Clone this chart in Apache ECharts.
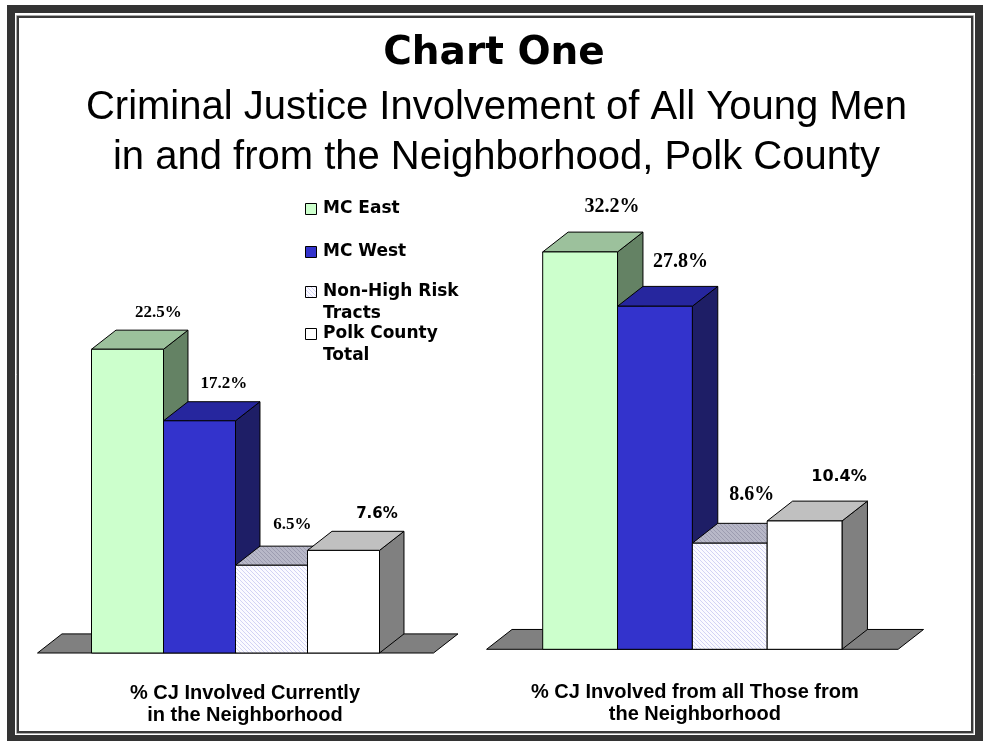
<!DOCTYPE html>
<html><head><meta charset="utf-8">
<script src="https://cdn.jsdelivr.net/npm/echarts@6/dist/echarts.min.js"></script>
<style>html,body{margin:0;padding:0;background:#fff}#c{width:983px;height:741px}</style>
</head><body><div id="c"></div>
<script>
// ---- data ----
const groupLabels = ['% CJ Involved Currently\nin the Neighborhood', '% CJ Involved from all Those from\nthe Neighborhood'];
const seriesNames = ['MC East', 'MC West', 'Non-High Risk Tracts', 'Polk County Total'];
const legendLabels = ['MC East', 'MC West', 'Non-High Risk\nTracts', 'Polk County\nTotal'];
const mcEast = [22.5, 32.2];
const mcWest = [17.2, 27.8];
const nonHighRisk = [6.5, 8.6];
const polkCountyTotal = [7.6, 10.4];
const seriesValues = [mcEast, mcWest, nonHighRisk, polkCountyTotal];

// ---- styles ----
function hatch(bg, fg) {
  const c = document.createElement('canvas'); c.width = 4; c.height = 4;
  const g = c.getContext('2d'); g.fillStyle = bg; g.fillRect(0, 0, 4, 4);
  g.fillStyle = fg; for (let i = 0; i < 4; i++) g.fillRect(i, i, 1, 1);
  return { image: c, repeat: 'repeat' };
}
const faces = [
  { front: '#CCFFCC', top: '#9CC19C', side: '#648264' },
  { front: '#3333CC', top: '#26269E', side: '#1E1E66' },
  { front: hatch('#FAFAFF', '#D2D2F4'), top: hatch('#B8B8C8', '#9C9CB0'), side: '#7A7A8A' },
  { front: '#FFFFFF', top: '#C0C0C0', side: '#808080' }
];
const groupStyle = [
  { serif: 17, sans: 15, rise: 18 },
  { serif: 20, sans: 16, rise: 25 }
];
const labelShift = [6.5, 0, -3.5, 9];
const labelRiseAdj = [0, 0, 3.5, -1];
const edge = { stroke: '#000', lineWidth: 1 };

function depth(bw) { const dx = bw * 0.34; return [dx, dx * 0.78]; }

function renderFloor(params, api) {
  const bw = api.size([1, 0])[0];
  const p0 = api.coord([0, 0]), p3 = api.coord([seriesNames.length - 1, 0]);
  const L = p0[0] - bw * 1.25, R = p3[0] + bw * 1.25, y = p0[1];
  const [dx, dy] = depth(bw);
  return { type: 'polygon', shape: { points: [[L, y], [L + dx, y - dy], [R + dx, y - dy], [R, y]] },
    style: Object.assign({ fill: '#808080' }, edge) };
}

function renderBar(s, g) {
  return function (params, api) {
    const cat = api.value(0), val = api.value(1);
    const base = api.coord([cat, 0]), top = api.coord([cat, val]);
    const bw = api.size([1, 0])[0];
    const x0 = base[0] - bw / 2, x1 = base[0] + bw / 2;
    const [dx, dy] = depth(bw);
    const yb = base[1], yt = top[1];
    const sans = s === 3;
    return { type: 'group', children: [
      { type: 'polygon', shape: { points: [[x1, yt], [x1 + dx, yt - dy], [x1 + dx, yb - dy], [x1, yb]] }, style: Object.assign({ fill: faces[s].side }, edge) },
      { type: 'polygon', shape: { points: [[x0, yt], [x0 + dx, yt - dy], [x1 + dx, yt - dy], [x1, yt]] }, style: Object.assign({ fill: faces[s].top }, edge) },
      { type: 'rect', shape: { x: x0, y: yt, width: bw, height: yb - yt }, style: Object.assign({ fill: faces[s].front }, edge) },
      { type: 'text', x: base[0] + dx + labelShift[s], y: yt - dy - groupStyle[g].rise - labelRiseAdj[s],
        style: { text: val.toFixed(1) + '%', fill: '#000', fontWeight: 'bold',
          fontFamily: sans ? 'DejaVu Sans' : 'Liberation Serif',
          fontSize: sans ? groupStyle[g].sans : groupStyle[g].serif,
          align: 'center', verticalAlign: 'middle' } }
    ] };
  };
}

const series = [];
for (let g = 0; g < 2; g++) {
  series.push({ type: 'custom', name: 'floor' + g, xAxisIndex: g, yAxisIndex: g, data: [[0, 0]], renderItem: renderFloor, silent: true });
  for (let s = 0; s < seriesNames.length; s++) {
    series.push({ type: 'custom', name: seriesNames[s], xAxisIndex: g, yAxisIndex: g,
      data: [[s, seriesValues[s][g]]], renderItem: renderBar(s, g) });
  }
}

const nameStyle = { fontFamily: 'Liberation Sans', fontWeight: 'bold', fontSize: 20, lineHeight: 22, color: '#000' };
function xAxis(g, gap, padLeft) {
  return { gridIndex: g, type: 'category', data: seriesNames, axisLine: { show: false }, axisTick: { show: false },
    axisLabel: { show: false }, splitLine: { show: false }, name: groupLabels[g], nameLocation: 'middle', nameGap: gap,
    nameTextStyle: Object.assign({ padding: [0, 0, 0, padLeft] }, nameStyle) };
}

// legend (drawn as graphic, linked to series names/colors)
const legendSq = [203.5, 246.5, 286.5, 328.5];
const legendTxt = [209, 251.5, 303, 345];
const legendGraphics = [];
for (let i = 0; i < seriesNames.length; i++) {
  legendGraphics.push({ type: 'rect', shape: { x: 305.5, y: legendSq[i], width: 11, height: 11 },
    style: { fill: faces[i].front, stroke: '#000', lineWidth: 1 } });
  legendGraphics.push({ type: 'text', x: 323, y: legendTxt[i],
    style: { text: legendLabels[i], fontFamily: 'DejaVu Sans', fontWeight: 'bold', fontSize: 17, lineHeight: 22,
      fill: '#000', align: 'left', verticalAlign: 'middle' } });
}

const chart = echarts.init(document.getElementById('c'));
chart.setOption({
  animation: false,
  backgroundColor: '#fff',
  grid: [
    { left: 91.5, top: 248, width: 288, height: 405, containLabel: false, outerBoundsMode: 'none' },
    { left: 542.7, top: 217.4, width: 299.3, height: 431.9, containLabel: false, outerBoundsMode: 'none' }
  ],
  xAxis: [xAxis(0, 29, 19), xAxis(1, 32.5, 5)],
  yAxis: [
    { gridIndex: 0, type: 'value', min: 0, max: 30, show: false },
    { gridIndex: 1, type: 'value', min: 0, max: 35, show: false }
  ],
  series: series,
  graphic: [
    { type: 'rect', shape: { x: 11, y: 9, width: 968, height: 730 }, style: { fill: 'none', stroke: '#333', lineWidth: 8 } },
    { type: 'rect', shape: { x: 16.5, y: 15.5, width: 957, height: 718 }, style: { fill: 'none', stroke: '#aaa', lineWidth: 1 } },
    { type: 'rect', shape: { x: 18, y: 17, width: 954, height: 715 }, style: { fill: 'none', stroke: '#3a3a3a', lineWidth: 2 } },
    { type: 'text', x: 494, y: 53.5, style: { text: 'Chart One', fontFamily: 'DejaVu Sans', fontWeight: 'bold', fontSize: 39,
      fill: '#000', align: 'center', verticalAlign: 'middle' } },
    { type: 'text', x: 496.5, y: 133, style: { text: 'Criminal Justice Involvement of All Young Men\nin and from the Neighborhood, Polk County',
      fontFamily: 'Liberation Sans', fontSize: 40, lineHeight: 50, fill: '#000', align: 'center', verticalAlign: 'middle' } }
  ].concat(legendGraphics)
});
</script>
</body></html>
